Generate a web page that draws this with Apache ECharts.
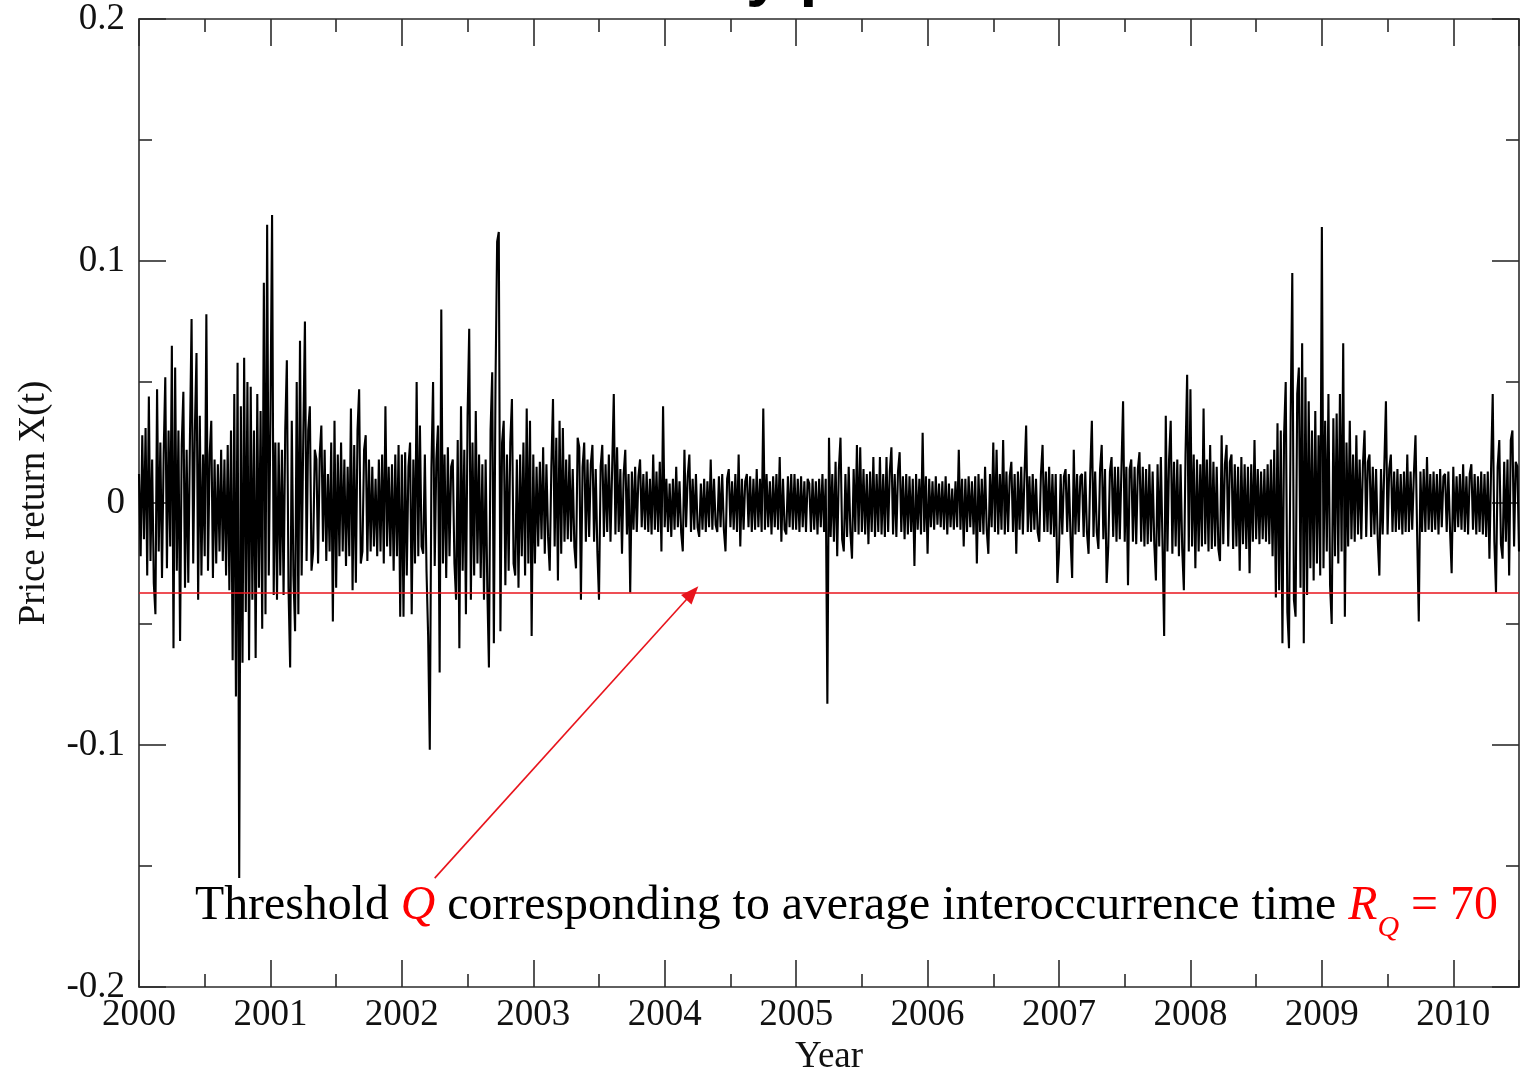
<!DOCTYPE html>
<html>
<head>
<meta charset="utf-8">
<script src="https://cdn.jsdelivr.net/npm/echarts@6/dist/echarts.min.js"></script>
<style>
  html, body { margin: 0; padding: 0; background: #fff; }
  #chart { width: 1520px; height: 1072px; }
</style>
</head>
<body>
<div id="chart"></div>
<script>
// Daily price returns X(t), sampled 80 times per calendar year, one array per year.
const ret2000 = [
  0.012,-0.022,0.028,-0.015,0.031,-0.030,0.044,-0.024,0.018,-0.033,
  -0.046,0.047,-0.020,0.025,-0.031,0.020,0.052,-0.027,0.030,-0.018,
  0.065,-0.060,0.056,-0.028,0.030,-0.057,0.024,0.046,-0.035,0.022,
  -0.033,0.026,0.076,-0.025,0.030,0.062,-0.040,0.036,-0.030,0.020,
  -0.022,0.078,-0.028,0.020,0.034,-0.031,0.018,-0.025,0.016,-0.020,
  0.022,-0.024,0.018,-0.030,0.024,-0.036,0.030,-0.065,0.045,-0.080,
  0.058,-0.155,0.040,-0.066,0.060,-0.045,0.050,-0.065,0.048,-0.040,
  0.030,-0.064,0.045,-0.035,0.038,-0.052,0.091,-0.046,0.115,-0.030
];
const ret2001 = [
  0.035,0.119,-0.038,0.025,-0.040,0.025,-0.030,0.022,-0.038,0.030,
  0.059,-0.035,-0.068,0.034,-0.030,-0.053,0.050,-0.046,0.067,-0.030,
  0.028,0.075,-0.024,0.030,0.040,-0.028,-0.020,0.022,0.018,-0.025,
  0.020,0.032,-0.016,0.022,-0.024,0.012,-0.020,0.025,-0.049,0.034,
  -0.035,0.020,-0.022,0.025,-0.020,0.018,-0.026,0.015,-0.022,0.039,
  -0.036,0.024,-0.033,0.030,0.047,-0.025,-0.020,0.022,0.028,-0.024,
  0.018,-0.020,0.015,-0.018,0.010,-0.022,0.018,-0.020,0.020,-0.025,
  0.040,-0.018,0.015,-0.022,0.016,-0.028,0.020,-0.022,0.024,-0.047
];
const ret2002 = [
  0.020,-0.047,0.021,-0.030,0.015,0.025,-0.046,0.018,-0.025,0.050,
  -0.022,0.032,-0.018,-0.021,0.020,-0.028,-0.055,-0.102,0.014,0.050,
  -0.026,0.018,0.032,-0.070,0.080,-0.025,0.020,-0.031,0.023,-0.022,
  0.015,0.018,-0.025,-0.040,0.026,-0.060,0.040,-0.028,0.022,-0.046,
  0.036,0.072,-0.040,0.025,-0.030,0.038,-0.025,0.020,-0.031,0.016,
  -0.040,0.018,-0.035,-0.068,0.030,0.054,-0.058,0.049,0.108,0.112,
  -0.053,0.025,0.034,-0.034,0.020,-0.028,0.025,0.043,-0.025,-0.030,
  0.018,-0.035,0.020,-0.022,0.025,-0.030,0.039,-0.025,0.034,-0.055
];
const ret2003 = [
  0.020,-0.025,0.015,-0.018,0.017,-0.015,0.023,-0.021,0.016,-0.014,
  -0.028,0.015,0.043,-0.018,0.027,-0.032,0.034,-0.021,0.031,-0.016,
  0.018,-0.015,0.020,-0.016,0.014,-0.018,-0.027,0.027,0.023,-0.040,
  0.015,0.025,-0.016,0.018,-0.014,0.016,0.024,-0.016,0.014,-0.020,
  -0.040,0.015,0.024,-0.014,0.016,-0.012,0.020,-0.016,0.014,0.045,
  -0.013,0.023,-0.012,0.014,-0.021,0.012,0.022,-0.013,0.012,-0.037,
  0.013,-0.011,0.015,-0.012,0.011,0.018,-0.010,0.012,-0.011,0.013,
  -0.012,0.010,-0.013,0.020,-0.011,0.013,-0.012,0.017,-0.020,0.040
];
const ret2004 = [
  -0.010,0.010,-0.012,0.008,-0.014,0.010,-0.011,0.015,-0.010,0.009,
  -0.012,-0.020,0.022,-0.010,0.011,0.020,-0.012,0.010,-0.011,0.012,
  -0.010,-0.014,0.008,-0.011,0.010,-0.012,0.009,-0.010,0.018,-0.011,
  0.010,-0.009,-0.012,0.011,-0.010,0.012,-0.011,-0.020,0.010,0.014,
  -0.010,0.009,-0.011,0.012,-0.012,0.020,-0.018,0.010,-0.011,0.009,
  0.012,-0.010,0.011,-0.012,0.010,-0.011,0.014,-0.010,0.010,-0.012,
  0.039,-0.011,0.012,-0.010,0.009,-0.013,0.011,-0.010,0.012,-0.011,
  0.019,-0.016,0.010,-0.011,-0.013,0.011,-0.010,0.012,-0.011,0.012
];
const ret2005 = [
  -0.011,0.010,-0.012,0.011,-0.010,0.009,-0.012,0.010,0.008,-0.012,
  0.010,-0.011,0.009,-0.013,0.010,-0.010,0.012,-0.012,0.010,-0.083,
  0.027,-0.014,0.012,-0.016,0.017,-0.022,0.014,0.027,-0.015,-0.020,
  0.012,-0.014,0.015,-0.012,-0.023,0.014,-0.012,0.024,-0.013,0.023,
  -0.012,0.014,-0.013,0.012,-0.017,0.013,-0.012,0.019,-0.014,0.012,
  -0.012,0.019,-0.013,0.012,-0.014,0.019,-0.012,0.013,0.023,-0.013,
  0.012,-0.014,0.013,0.021,-0.012,0.011,-0.015,0.012,-0.013,0.011,
  -0.012,0.010,-0.026,0.012,-0.011,0.010,-0.013,0.029,-0.012,0.011
];
const ret2006 = [
  -0.021,0.010,-0.010,0.009,-0.011,0.011,-0.009,0.008,-0.010,0.009,
  -0.011,0.011,-0.013,0.008,-0.010,0.006,-0.011,0.009,-0.010,0.022,
  -0.011,0.010,-0.018,0.010,-0.012,0.011,-0.010,0.009,-0.013,0.011,
  -0.025,0.012,-0.012,0.010,-0.013,0.015,-0.011,-0.021,0.012,-0.010,
  0.025,-0.012,0.022,-0.013,0.012,-0.011,0.026,-0.013,0.013,-0.012,
  0.011,0.017,-0.012,0.012,-0.021,0.013,-0.011,0.015,-0.013,0.012,
  0.032,-0.012,0.011,-0.012,0.012,-0.011,0.010,-0.012,-0.016,0.012,
  0.024,-0.012,0.013,-0.012,0.015,-0.013,0.012,-0.014,0.012,-0.033
];
const ret2007 = [
  -0.020,0.012,-0.013,0.011,0.014,-0.012,0.012,-0.014,-0.031,0.022,
  -0.013,0.012,-0.012,0.011,0.012,-0.014,0.013,-0.012,-0.021,0.012,
  0.034,-0.014,0.013,-0.012,-0.019,0.014,0.024,-0.015,0.014,-0.033,
  -0.018,0.013,0.019,-0.014,0.015,-0.016,0.015,-0.015,0.014,0.042,
  -0.016,0.015,-0.034,0.014,0.018,-0.016,0.015,-0.017,0.014,0.021,
  -0.016,0.015,-0.018,0.014,-0.017,0.016,-0.016,0.013,-0.017,-0.032,
  0.016,-0.018,0.019,-0.017,-0.055,0.036,-0.020,0.018,0.034,-0.021,
  0.017,-0.018,0.018,-0.022,0.016,-0.019,-0.036,0.020,0.053,-0.020
];
const ret2008 = [
  0.047,-0.018,0.020,-0.027,0.018,-0.020,0.016,-0.018,0.039,-0.017,
  0.018,-0.020,0.024,-0.019,0.017,-0.018,0.015,-0.019,-0.024,0.028,
  -0.017,0.016,0.024,-0.018,0.017,0.020,-0.019,0.016,-0.018,0.015,
  -0.028,0.019,-0.017,0.016,-0.019,0.015,-0.029,0.016,-0.016,0.026,
  -0.015,0.014,-0.017,0.013,-0.015,0.014,-0.016,0.016,-0.017,0.018,
  -0.022,0.022,-0.039,0.033,-0.036,0.030,-0.058,0.028,0.050,-0.045,
  -0.060,0.035,0.095,-0.040,-0.047,0.045,0.056,-0.035,0.066,-0.058,
  0.052,-0.038,0.042,-0.027,0.030,-0.032,0.038,-0.025,0.028,-0.030
];
const ret2009 = [
  0.114,-0.027,0.034,-0.020,0.045,-0.034,-0.050,0.035,-0.022,0.037,
  -0.025,0.045,-0.020,0.066,-0.047,0.025,-0.018,0.034,-0.015,0.020,
  -0.016,0.028,-0.013,0.018,-0.015,0.016,0.030,-0.014,0.017,0.020,
  -0.014,0.015,-0.013,0.014,-0.015,-0.030,0.014,-0.013,0.015,0.042,
  -0.013,0.014,0.020,-0.012,0.013,-0.012,0.014,-0.011,0.012,-0.013,
  0.013,-0.012,0.020,-0.012,0.013,-0.011,0.012,0.028,-0.013,-0.049,
  0.013,-0.012,0.014,-0.012,0.019,-0.011,0.012,-0.012,0.013,-0.011,
  0.012,-0.013,0.014,-0.010,0.011,0.012,-0.012,0.013,-0.011,-0.029
];
const ret2010 = [
  0.015,-0.012,0.011,-0.010,0.012,-0.011,0.016,-0.012,0.011,-0.013,
  0.012,0.016,-0.011,0.012,-0.013,0.011,-0.012,0.013,-0.013,0.012,
  -0.014,0.013,-0.023,0.014,0.045,-0.016,-0.037,0.015,0.026,-0.017,
  -0.023,0.017,-0.016,0.018,-0.030,0.026,0.030,-0.018,0.017,0.015,
  -0.020
];

const yearStarts = [2000, 2001, 2002, 2003, 2004, 2005, 2006, 2007, 2008, 2009, 2010];
const yearlyReturns = [ret2000, ret2001, ret2002, ret2003, ret2004, ret2005,
                       ret2006, ret2007, ret2008, ret2009, ret2010];
const samplesPerYear = 80;

// Extreme-event threshold Q and the annotation arrow (data coordinates)
const thresholdQ = -0.0372;
const averageInteroccurrence = 70;
const arrowTail = [2002.25, -0.155];
const arrowHead = [2004.21, thresholdQ];

const xRange = { min: 2000, max: 2010.5, step: 1 };
const yRange = { min: -0.2, max: 0.2, step: 0.1 };

const points = [];
yearlyReturns.forEach((arr, k) => {
  arr.forEach((v, i) => points.push([yearStarts[k] + i / samplesPerYear, v]));
});

const serif = 'Liberation Serif';
const frame = '#2b2b2b';

function frameAxis(extra) {
  return Object.assign({
    type: 'value',
    axisLine: { show: true, onZero: false, lineStyle: { color: frame, width: 1.6 } },
    axisTick: { show: true, inside: true, length: 27, lineStyle: { color: frame, width: 1.6 } },
    minorTick: { show: true, splitNumber: 2, length: 13, lineStyle: { color: frame, width: 1.6 } },
    splitLine: { show: false },
    minorSplitLine: { show: false }
  }, extra);
}

const chart = echarts.init(document.getElementById('chart'), null, { renderer: 'canvas' });

// Place the partially visible heading so that the "y" of "Daily" sits at x≈746
const ctx = document.createElement('canvas').getContext('2d');
const headFont = 'bold 64px "Liberation Sans"';
ctx.font = headFont;
const headX = 746 - ctx.measureText('Dail').width;

const noteText = '{a|Threshold }{r|Q}{a| corresponding to average interoccurrence time }' +
                 '{r|R}{s|Q}{n| = ' + averageInteroccurrence + '}';

chart.setOption({
  animation: false,
  backgroundColor: '#ffffff',
  grid: { left: 139, right: 1, top: 19, bottom: 85, containLabel: false, outerBoundsMode: 'none' },
  xAxis: [
    frameAxis({
      position: 'bottom',
      min: xRange.min, max: xRange.max, interval: xRange.step,
      name: 'Year', nameLocation: 'middle', nameGap: 48,
      nameTextStyle: { fontFamily: serif, fontSize: 37, color: '#111' },
      axisLabel: { show: true, margin: 10, fontFamily: serif, fontSize: 37, color: '#111',
                   formatter: v => String(v) }
    }),
    frameAxis({
      position: 'top',
      min: xRange.min, max: xRange.max, interval: xRange.step,
      axisLabel: { show: false }
    })
  ],
  yAxis: [
    frameAxis({
      position: 'left',
      min: yRange.min, max: yRange.max, interval: yRange.step,
      name: 'Price return X(t)', nameLocation: 'middle', nameGap: 86, nameRotate: 90,
      nameTextStyle: { fontFamily: serif, fontSize: 37, color: '#111' },
      axisLabel: { show: true, margin: 14, fontFamily: serif, fontSize: 37, color: '#111',
                   formatter: v => String(Math.round(v * 10) / 10) }
    }),
    frameAxis({
      position: 'right',
      min: yRange.min, max: yRange.max, interval: yRange.step,
      axisLabel: { show: false }
    })
  ],
  series: [{
    type: 'line',
    xAxisIndex: 0,
    yAxisIndex: 0,
    data: points,
    showSymbol: false,
    symbol: 'none',
    sampling: null,
    lineStyle: { color: '#000', width: 2.1 },
    silent: true,
    markLine: {
      silent: true,
      animation: false,
      label: { show: false },
      data: [
        [{ coord: [xRange.min, thresholdQ], symbol: 'none' },
         { coord: [xRange.max, thresholdQ], symbol: 'none' }],
        [{ coord: arrowTail, symbol: 'none' },
         { coord: arrowHead, symbol: 'triangle', symbolSize: [14, 18] }]
      ],
      lineStyle: { color: '#e8141c', width: 1.6, type: 'solid' }
    }
  }],
  graphic: [
    {
      type: 'text',
      x: headX, y: -24,
      silent: true,
      style: { text: 'Daily price returns', font: headFont, fill: '#000', verticalAlign: 'middle' }
    },
    {
      type: 'text',
      x: 195, y: 906,
      silent: true,
      style: {
        text: noteText,
        verticalAlign: 'middle',
        rich: {
          a: { fontFamily: serif, fontSize: 47.8, fill: '#000', lineHeight: 74, verticalAlign: 'middle' },
          r: { fontFamily: serif, fontSize: 47.8, fontStyle: 'italic', fill: '#ff0000', lineHeight: 74, verticalAlign: 'middle' },
          s: { fontFamily: serif, fontSize: 30, fontStyle: 'italic', fill: '#ff0000', lineHeight: 4, verticalAlign: 'bottom' },
          n: { fontFamily: serif, fontSize: 47.8, fill: '#ff0000', lineHeight: 74, verticalAlign: 'middle' }
        }
      }
    }
  ]
});
</script>
</body>
</html>
